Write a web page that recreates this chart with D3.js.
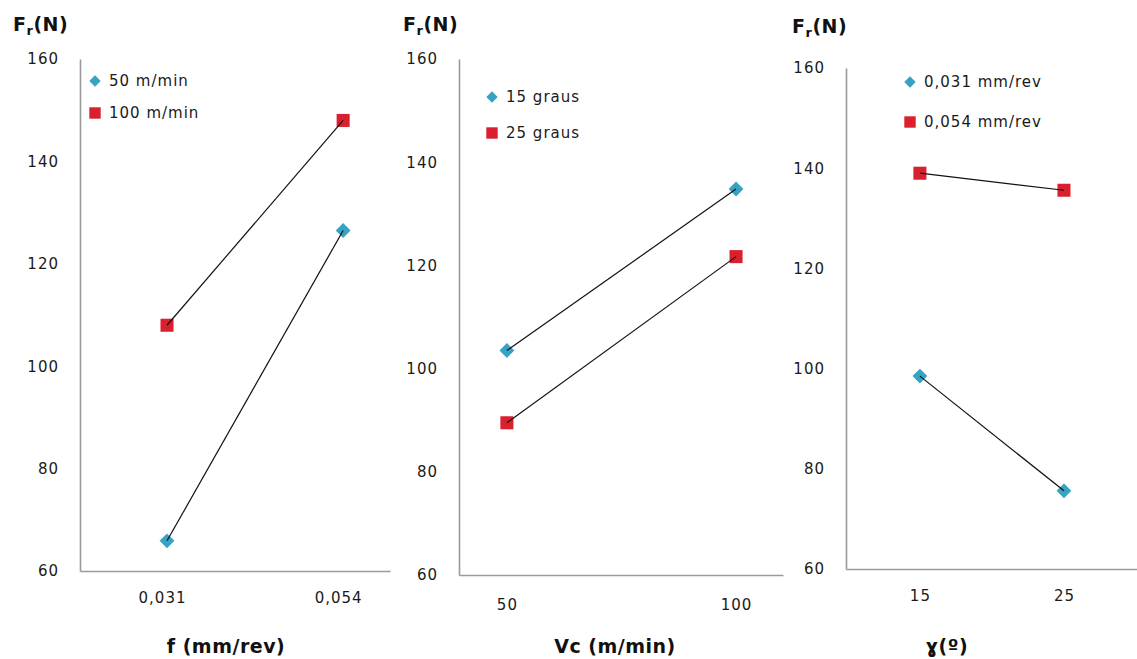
<!DOCTYPE html>
<html>
<head>
<meta charset="utf-8">
<script src="https://cdn.jsdelivr.net/npm/d3@7"></script>
<style>
  body { margin: 0; background: #fff; }
  svg text { font-family: "DejaVu Sans", sans-serif; fill: #1a1a1a; }
  .tick text { font-size: 15px; letter-spacing: 1px; }
  .legend text { font-size: 15px; letter-spacing: 1px; }
  .title { font-weight: bold; font-size: 19px; letter-spacing: 0.5px; fill: #111; }
</style>
</head>
<body>
<div id="chart-area"></div>
<script>

// --- Data ---
var yTicks = [60, 80, 100, 120, 140, 160];

// panel 1: Fr vs f, series by cutting speed
var feedCats = ["0,031", "0,054"];
var speed50 = [65.9, 126.5];
var speed100 = [108.0, 148.0];
var feedLegend = ["50 m/min", "100 m/min"];

// panel 2: Fr vs Vc, series by angle
var speedCats = ["50", "100"];
var angle15 = [103.5, 134.8];
var angle25 = [89.5, 121.7];
var speedLegend = ["15 graus", "25 graus"];

// panel 3: Fr vs angle, series by feed
var angleCats = ["15", "25"];
var feed031 = [98.5, 75.6];
var feed054 = [139.0, 135.6];
var angleLegend = ["0,031 mm/rev", "0,054 mm/rev"];

var blue = "#36a3c2";
var red = "#d9202e";

var svg = d3.select("#chart-area").append("svg")
    .attr("width", 1137)
    .attr("height", 659);

// layout of each panel (x, y = top-left of the plot area)
var panels = [
  { cats: feedCats, s1: speed50, s2: speed100, legend: feedLegend, xTitle: "f (mm/rev)",
    x: 80, y: 59, w: 310, h: 512, pad: 0.38, align: 0.65, tickPad: 21, tickDx: -5,
    legX: 15, legY: 22, legGap: 32, titleX: 13, titleY: 25, xTitleX: 226 },
  { cats: speedCats, s1: angle15, s2: angle25, legend: speedLegend, xTitle: "Vc (m/min)",
    x: 459, y: 59, w: 324, h: 516, pad: 0.207, align: 0.505, tickPad: 24, tickDx: 0,
    legX: 33, legY: 38, legGap: 36, titleX: 403, titleY: 25, xTitleX: 615 },
  { cats: angleCats, s1: feed031, s2: feed054, legend: angleLegend, xTitle: "ɣ(º)",
    x: 846, y: 68, w: 291, h: 501, pad: 0.51, align: 0.503, tickPad: 21, tickDx: 0,
    legX: 64, legY: 14, legGap: 40, titleX: 792, titleY: 27, xTitleX: 947 }
];

panels.forEach(function(p) {
  var g = svg.append("g")
      .attr("transform", "translate(" + p.x + "," + p.y + ")");

  var x = d3.scalePoint()
      .domain(p.cats)
      .range([0, p.w])
      .padding(p.pad)
      .align(p.align);

  var y = d3.scaleLinear()
      .domain([60, 160])
      .range([p.h, 0]);

  // --- Axes ---
  var yAxis = g.append("g")
      .call(d3.axisLeft(y).tickValues(yTicks).tickSize(0).tickPadding(21));
  var xAxis = g.append("g")
      .attr("transform", "translate(0," + p.h + ")")
      .call(d3.axisBottom(x).tickSize(0).tickPadding(p.tickPad));

  [yAxis, xAxis].forEach(function(a) {
    a.select(".domain").attr("stroke", "#9a9a9a").attr("stroke-width", 1.6);
    a.selectAll("text").attr("font-family", null).attr("font-size", null);
  });
  xAxis.selectAll(".tick text").attr("dx", p.tickDx);

  // --- Titles ---
  var ft = svg.append("text")
      .attr("class", "title")
      .attr("x", p.titleX)
      .attr("y", p.titleY + 6);
  ft.append("tspan").text("F");
  ft.append("tspan").text("r").attr("font-size", "13px").attr("dy", 4);
  ft.append("tspan").text("(N)").attr("dy", -4);

  svg.append("text")
      .attr("class", "title")
      .attr("x", p.xTitleX)
      .attr("y", 653)
      .attr("text-anchor", "middle")
      .text(p.xTitle);

  // --- Markers ---
  g.selectAll(".s1").data(p.s1).enter().append("path")
      .attr("transform", function(d, i) { return "translate(" + x(p.cats[i]) + "," + y(d) + ") rotate(45)"; })
      .attr("d", d3.symbol().type(d3.symbolSquare).size(110))
      .attr("fill", blue);

  g.selectAll(".s2").data(p.s2).enter().append("path")
      .attr("transform", function(d, i) { return "translate(" + x(p.cats[i]) + "," + y(d) + ")"; })
      .attr("d", d3.symbol().type(d3.symbolSquare).size(170))
      .attr("fill", red);

  // --- Lines (drawn over the markers, ending at their centres) ---
  var line = d3.line()
      .x(function(d, i) { return x(p.cats[i]); })
      .y(function(d) { return y(d); });

  [p.s1, p.s2].forEach(function(s) {
    g.append("path")
        .attr("d", line(s))
        .attr("fill", "none")
        .attr("stroke", "#111")
        .attr("stroke-width", 1.2);
  });

  // --- Legend ---
  var leg = g.append("g").attr("class", "legend")
      .attr("transform", "translate(" + p.legX + "," + p.legY + ")");
  p.legend.forEach(function(name, i) {
    var row = leg.append("g").attr("transform", "translate(0," + (i * p.legGap) + ")");
    row.append("path")
        .attr("d", d3.symbol().type(d3.symbolSquare).size(i === 0 ? 64 : 130)())
        .attr("transform", i === 0 ? "rotate(45)" : null)
        .attr("fill", i === 0 ? blue : red);
    row.append("text")
        .attr("x", 14)
        .attr("dy", "0.35em")
        .text(name);
  });
});

</script>
</body>
</html>
